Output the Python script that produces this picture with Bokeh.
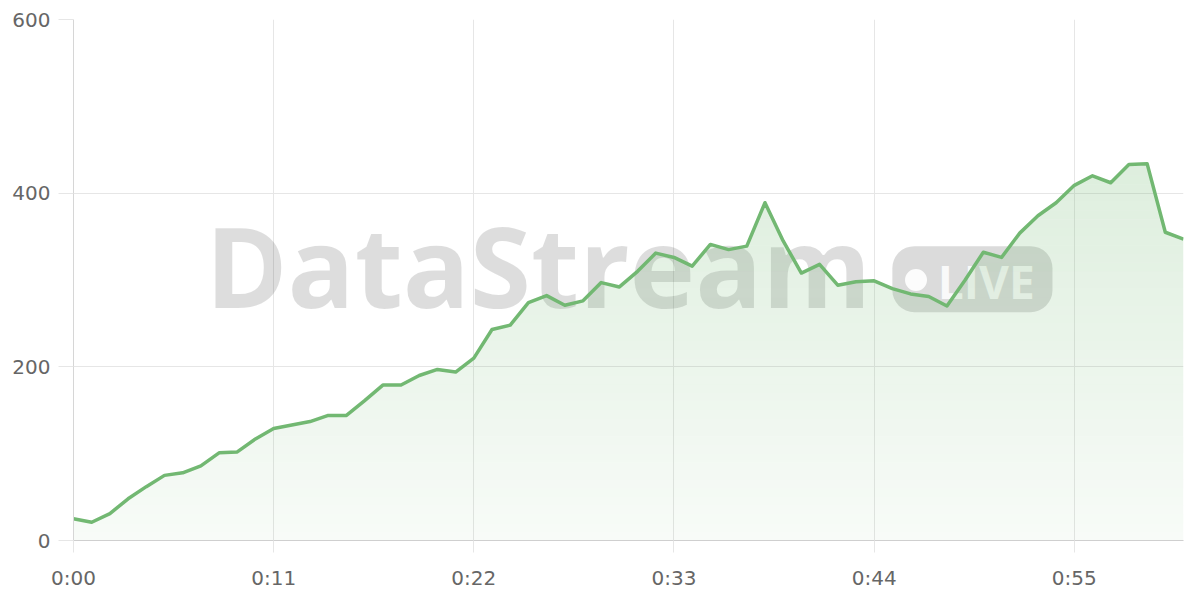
import numpy as np
from bokeh.plotting import figure
from bokeh.models import Range1d, FixedTicker, BoxAnnotation
from bokeh.core.properties import value
from bokeh.embed import file_html
from bokeh.resources import INLINE

# ---- data ----
seconds = list(range(62))
values = [25, 21, 31, 48, 62, 75, 78, 86, 101, 102,
          117, 129, 133, 137, 144, 144, 161, 179, 179, 190,
          197, 194, 210, 243, 248, 274, 282, 271, 276, 297,
          292, 310, 331, 326, 316, 341, 335, 339, 389, 345,
          308, 318, 294, 298, 299, 290, 284, 281, 270, 300,
          332, 326, 354, 374, 389, 409, 420, 412, 433, 434,
          355, 347]
x_ticks = [0, 11, 22, 33, 44, 55]
x_tick_labels = ["0:00", "0:11", "0:22", "0:33", "0:44", "0:55"]
y_ticks = [0, 200, 400, 600]

GREEN = "#72b872"
FILL = "#72b872"
GRID = "#e6e6e6"
LABEL = "#666666"

p = figure(width=1192, height=592, output_backend="svg", toolbar_location=None,
           x_range=Range1d(0, 61), y_range=Range1d(0, 600),
           min_border_left=73, min_border_top=19, min_border_bottom=49, min_border_right=9)
p.outline_line_color = None
p.background_fill_color = "white"

# axes
for ax in (p.xaxis[0], p.yaxis[0]):
    ax.major_label_text_font = "DejaVu Sans"
    ax.major_label_text_font_size = "20px"
    ax.major_label_text_color = LABEL
    ax.minor_tick_line_color = None
    ax.major_tick_in = 0
    ax.major_tick_line_color = GRID
p.xaxis.ticker = FixedTicker(ticks=x_ticks)
p.xaxis.major_label_overrides = {t: l for t, l in zip(x_ticks, x_tick_labels)}
p.xaxis.major_tick_out = 12
p.xaxis.major_label_standoff = 13
p.xaxis.axis_line_color = "#cfcfcf"
p.yaxis.ticker = FixedTicker(ticks=y_ticks)
p.yaxis.major_tick_out = 15
p.yaxis.major_label_standoff = 8
p.yaxis.axis_line_color = "#d6d6d6"

p.xgrid.ticker = FixedTicker(ticks=x_ticks)
p.ygrid.ticker = FixedTicker(ticks=y_ticks)
p.grid.grid_line_color = GRID
p.grid.grid_line_width = 1

# watermark (behind chart)
p.text(x=[7.25], y=[317], text=["DataStream"], text_font=value("Open Sans"),
       text_font_style="bold", text_font_size="111px", text_color="#000000",
       text_alpha=0.135, text_baseline="alphabetic", text_align="left")
badge = BoxAnnotation(left=45.0, right=53.8, bottom=263, top=339,
                      fill_color="#000000", fill_alpha=0.14, line_color=None,
                      border_radius=22, level="underlay")
p.add_layout(badge)
p.scatter(x=[46.3], y=[300], size=22, fill_color="white", fill_alpha=0.9, line_color=None)
p.text(x=[47.5], y=[299], text=["LIVE"], text_font=value("Open Sans"),
       text_font_style="bold", text_font_size="46px", text_color="white", text_alpha=0.85,
       text_baseline="alphabetic", text_align="left")

# vertical gradient fill under the line: adjacent non-overlapping bands
xd = np.linspace(0, 61, 3051)
vd = np.interp(xd, seconds, values)
N = 60
vmax = max(values)
for k in range(N):
    lo = k * 600.0 / N
    hi = (k + 1) * 600.0 / N
    if lo >= vmax:
        break
    a = 0.05 + 0.26 * (lo + hi) / 2 / 600.0
    p.varea(x=xd, y1=np.full_like(xd, lo), y2=np.clip(vd, lo, hi),
            fill_color=FILL, fill_alpha=a)

p.line(seconds, values, line_color=GREEN, line_width=3.5, line_join="round")

open("out.html", "w").write(file_html(p, INLINE))
